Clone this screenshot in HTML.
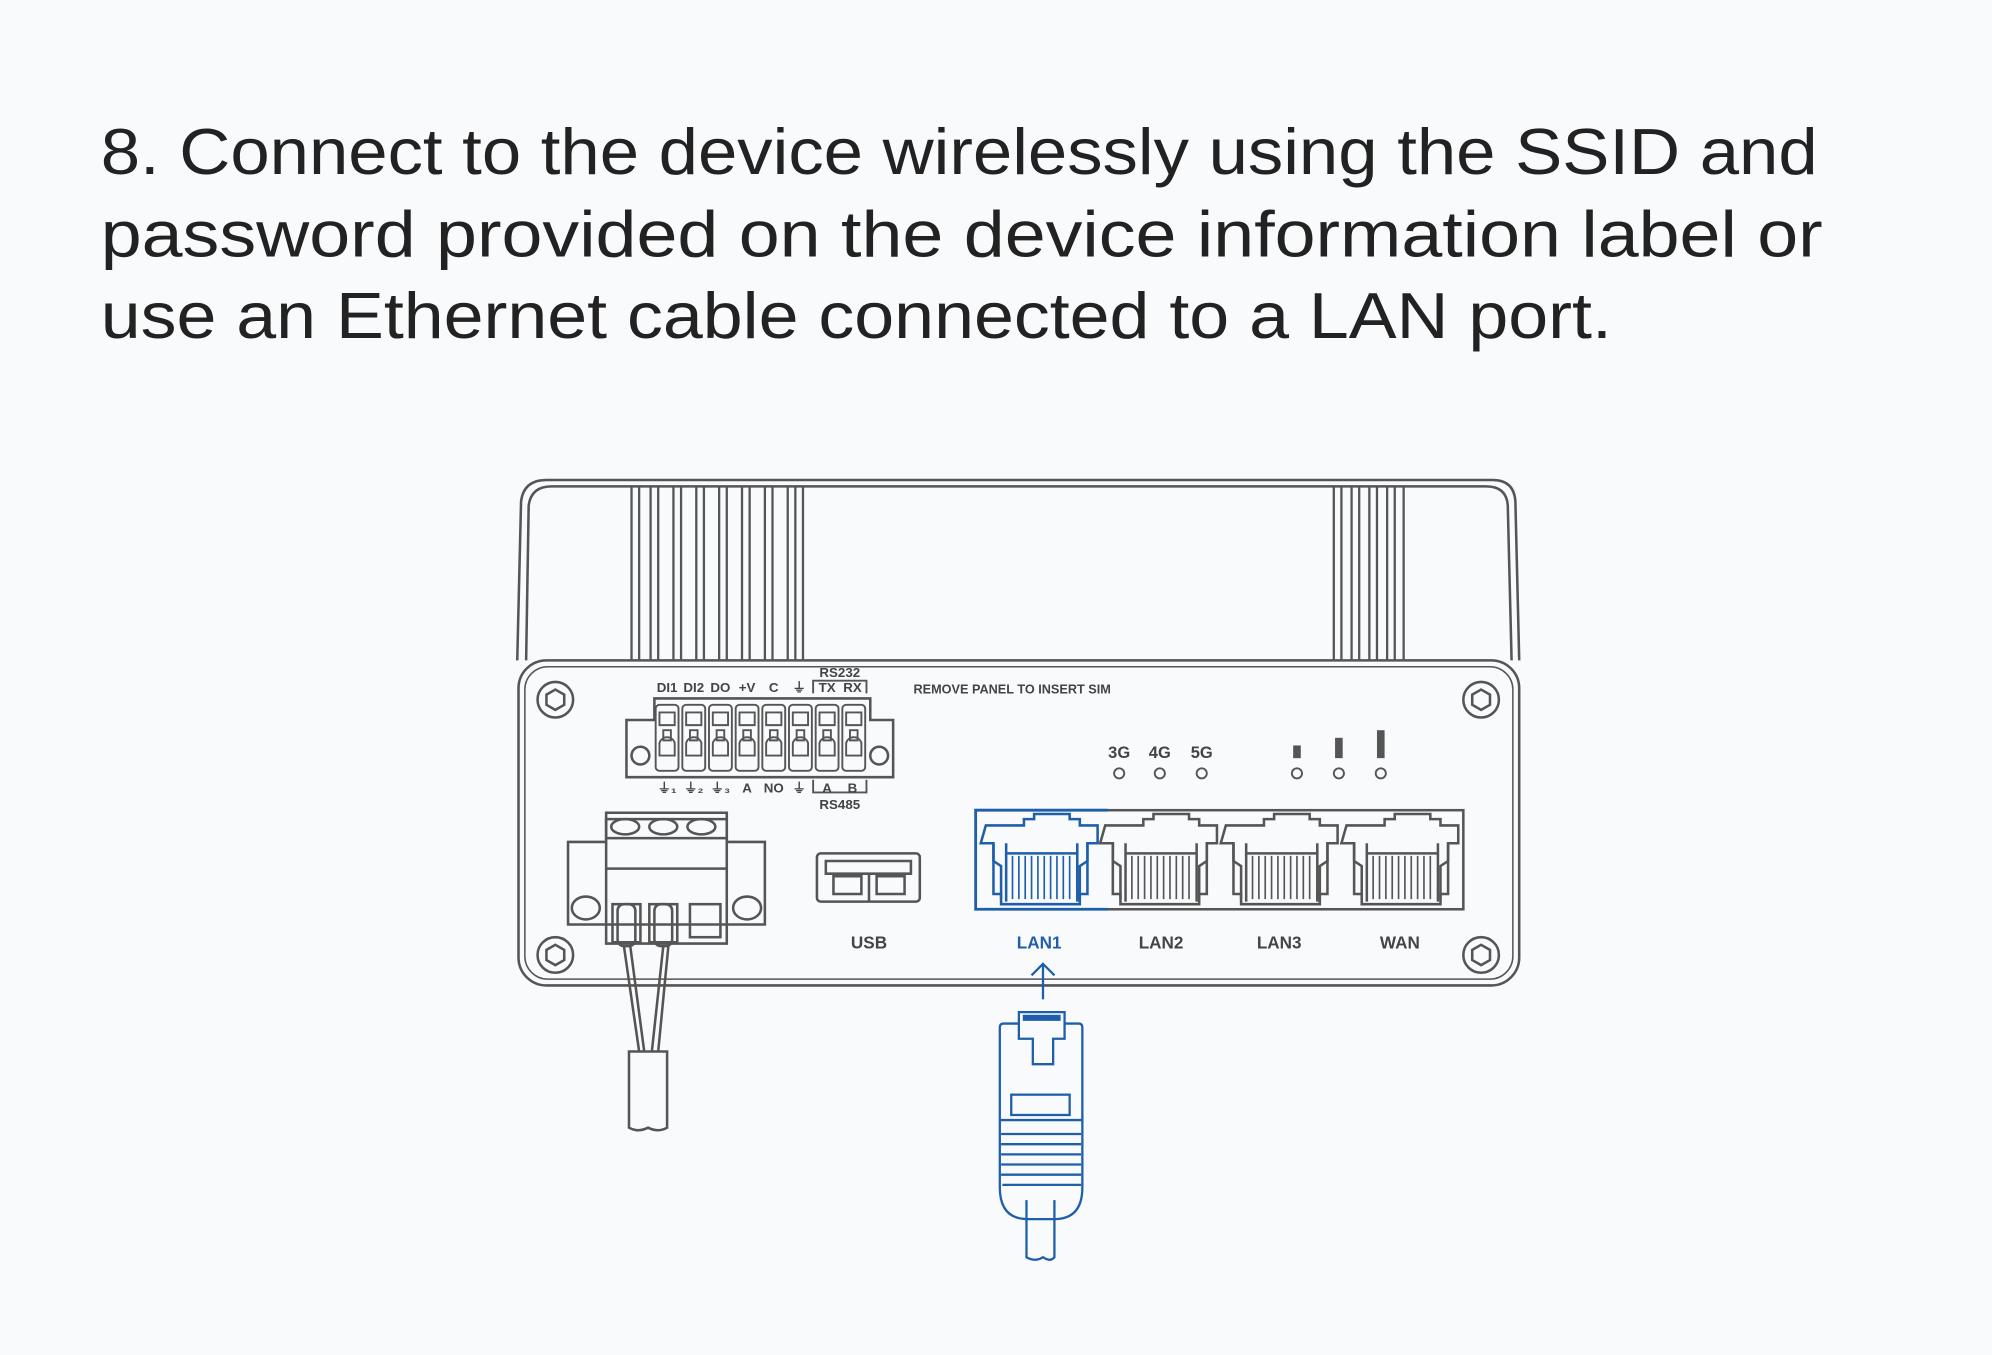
<!DOCTYPE html>
<html><head><meta charset="utf-8"><style>
html,body{margin:0;padding:0;background:#f9fafc;}
svg{display:block}
</style></head><body>
<svg width="1992" height="1355" viewBox="0 0 1568 1067" xmlns="http://www.w3.org/2000/svg" font-family="Liberation Sans, sans-serif">
<rect width="1568" height="1067" fill="#f9fafc"/>
<g font-size="51" fill="#222">
<text x="79" y="137" textLength="1352" lengthAdjust="spacingAndGlyphs">8. Connect to the device wirelessly using the SSID and</text>
<text x="79" y="202" textLength="1356" lengthAdjust="spacingAndGlyphs">password provided on the device information label or</text>
<text x="79" y="266" textLength="1190" lengthAdjust="spacingAndGlyphs">use an Ethernet cable connected to a LAN port.</text>
</g>
<defs>
<g id="port" fill="none" stroke-width="2">
<path d="M4,8 h30 v-5 h8 v-4 h28 v4 h8 v5 h14 v14 h-8 v40 h-6 v8 h-62 v-8 h-6 v-40 h-10 z"/>
<path d="M10,22 v14 l6,4 v26 M84,22 v14 l-6,4 v26"/>
<path d="M20,22 v46 M76,22 v46 M20,30 h56"/>
<g stroke-width="1.3"><path d="M25,32v34M30,32v34M35,32v34M40,32v34M45,32v34M50,32v34M55,32v34M60,32v34M65,32v34M70,32v34"/></g>
</g>
<g id="screw" fill="none" stroke="#555" stroke-width="2">
<circle r="14"/><polygon points="0,-8 7,-4 7,4 0,8 -7,4 -7,-4"/>
</g>
<g id="term" fill="none" stroke="#555" stroke-width="1.5">
<rect x="1" y="0" width="18" height="52" rx="3"/>
<path d="M4,6 h12 v10 h-12z M7,20 h6 v8 h-6z M4,30 c2,-6 10,-6 12,0 v10 h-12z"/>
</g>
</defs>
<g fill="none" stroke="#555" stroke-width="2">
<path d="M407,520 L410,395 Q412,378 430,378 H1175 Q1192,378 1193,395 L1196,520"/>
<path d="M414,520 L416,398 Q418,383 434,383 H1170 Q1186,383 1187,398 L1190,520"/>
<g stroke-width="1.8">
<path d="M497,383V520M503,383V520M512,383V520M518,383V520M530,383V520M536,383V520M548,383V520M554,383V520M566,383V520M572,383V520M584,383V520M590,383V520M602,383V520M608,383V520M620,383V520M626,383V520M632,383V520"/>
<path d="M1050,383V520M1056,383V520M1064,383V520M1070,383V520M1078,383V520M1084,383V520M1092,383V520M1098,383V520M1105,383V520"/>
</g>
<rect x="408" y="520" width="788" height="256" rx="22"/>
<rect x="413" y="525" width="778" height="246" rx="18" stroke-width="1.2"/>
</g>
<use href="#screw" x="437" y="551"/><use href="#screw" x="1166" y="551"/>
<use href="#screw" x="437" y="752"/><use href="#screw" x="1166" y="752"/>
<g fill="none" stroke="#555" stroke-width="2">
<path d="M493,567 h22 v-17 h170 v17 h18 v45 h-210z"/>
<circle cx="504" cy="595" r="7"/><circle cx="692" cy="595" r="7"/>
<path d="M640,546 v-10 h42 v10 M640,614 v10 h42 v-10" stroke-width="1.5"/>
</g>
<use href="#term" x="515" y="555"/><use href="#term" x="536" y="555"/><use href="#term" x="557" y="555"/><use href="#term" x="578" y="555"/>
<use href="#term" x="599" y="555"/><use href="#term" x="620" y="555"/><use href="#term" x="641" y="555"/><use href="#term" x="662" y="555"/>
<g font-size="10.5" font-weight="bold" fill="#444" text-anchor="middle">
<text x="525" y="545">DI1</text><text x="546" y="545">DI2</text><text x="567" y="545">DO</text><text x="588" y="545">+V</text>
<text x="609" y="545">C</text><text x="629" y="545">⏚</text><text x="651" y="545">TX</text><text x="671" y="545">RX</text>
<text x="661" y="533">RS232</text>
<text x="525" y="624">⏚₁</text><text x="546" y="624">⏚₂</text><text x="567" y="624">⏚₃</text><text x="588" y="624">A</text>
<text x="609" y="624">NO</text><text x="629" y="624">⏚</text><text x="651" y="624">A</text><text x="671" y="624">B</text>
<text x="661" y="637">RS485</text>
<text x="881" y="597" font-size="13">3G</text><text x="913" y="597" font-size="13">4G</text><text x="946" y="597" font-size="13">5G</text>
<text x="684" y="747" font-size="13.5">USB</text><text x="914" y="747" font-size="13.5">LAN2</text><text x="1007" y="747" font-size="13.5">LAN3</text><text x="1102" y="747" font-size="13.5">WAN</text>
<text x="818" y="747" font-size="13.5" fill="#1f5faa">LAN1</text>
</g>
<text x="719" y="546" font-size="10" font-weight="bold" fill="#444">REMOVE PANEL TO INSERT SIM</text>
<g fill="none" stroke="#555" stroke-width="1.5">
<circle cx="881" cy="609" r="4"/><circle cx="913" cy="609" r="4"/><circle cx="946" cy="609" r="4"/>
<circle cx="1021" cy="609" r="4"/><circle cx="1054" cy="609" r="4"/><circle cx="1087" cy="609" r="4"/>
</g>
<g fill="#555"><rect x="1018" y="587" width="6" height="10"/><rect x="1051" y="581" width="6" height="16"/><rect x="1084" y="575" width="6" height="22"/></g>
<g fill="none" stroke="#555" stroke-width="2">
<path d="M447,663 h30 v-18 h95 v18 h30 v65 h-155z"/>
<rect x="477" y="640" width="95" height="20"/>
<path d="M477,663 v80 h95 v-80 M477,684 h95"/>
<ellipse cx="492" cy="651" rx="11" ry="6"/><ellipse cx="522" cy="651" rx="11" ry="6"/><ellipse cx="552" cy="651" rx="11" ry="6"/>
<ellipse cx="461" cy="715" rx="11" ry="9"/><ellipse cx="588" cy="715" rx="11" ry="9"/>
<rect x="482" y="712" width="22" height="30"/><rect x="511" y="712" width="22" height="30"/><rect x="543" y="712" width="24" height="26"/>
<rect x="486" y="712" width="14" height="33" rx="5"/><rect x="515" y="712" width="14" height="33" rx="5"/>
<path d="M491,745 L503,828 M496,745 L507,828 M522,745 L513,828 M526,745 L518,828"/>
<path d="M495,828 h30 v60 q-7,4 -15,0 q-8,4 -15,0z"/>
<rect x="643" y="672" width="81" height="38" rx="3"/>
<path d="M650,678 h67 v10 h-67z M684,688 v22 M656,690 h22 v14 h-22z M690,690 h22 v14 h-22z"/>
</g>
<g stroke="#555" fill="none">
<rect x="768" y="638" width="384" height="78" stroke-width="2"/>
<use href="#port" x="866" y="642"/><use href="#port" x="961" y="642"/><use href="#port" x="1056" y="642"/>
</g>
<g stroke="#1f5faa" fill="none">
<path d="M872,638 H768 V716 H872" stroke-width="2.2"/>
<use href="#port" x="772" y="642"/>
</g>
<g fill="none" stroke="#1f5faa" stroke-width="1.8">
<path d="M821,787 V760 M812,768 L821,759 L830,768"/>
<path d="M802,806 H790 q-3,0 -3,3 V935 q0,25 22,25 H830 q22,0 22,-25 V809 q0,-3 -3,-3 H838"/>
<path d="M802,806 V797 h36 V806 V818 h-9 v20 h-16 v-20 h-11 z"/>
<rect x="806" y="800" width="28" height="3" fill="#1f5faa"/>
<path d="M787,882 H852"/>
<rect x="796" y="862" width="46" height="16"/>
<path d="M788,893 h63 M788,901 h63 M788,909 h63 M788,917 h63 M788,925 h63 M789,933 h62"/>
<path d="M808,945 v45 q7,4 13,0 q6,4 9,0 v-45"/>
</g>
</svg>
</body></html>
